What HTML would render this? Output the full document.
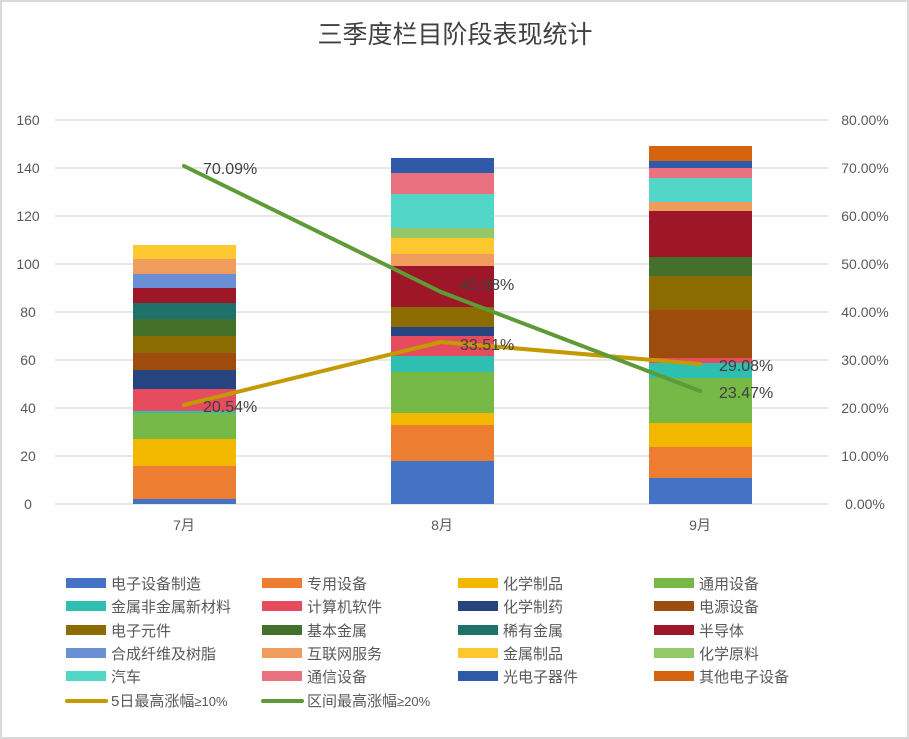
<!DOCTYPE html>
<html><head><meta charset="utf-8"><style>
body{margin:0;background:#fff}
svg{display:block}
text{font-family:"Liberation Sans","Noto Sans CJK SC",sans-serif;fill:#595959}
</style></head><body>
<svg width="909" height="739" viewBox="0 0 909 739">
<rect x="1" y="1" width="907" height="737" fill="#fff" stroke="#d9d9d9" stroke-width="2"/>
<text x="455" y="43" text-anchor="middle" font-size="25" style="fill:#404040">三季度栏目阶段表现统计</text>
<g stroke="#e0e0e0" stroke-width="1.5">
<line x1="55" x2="828" y1="120" y2="120"/><line x1="55" x2="828" y1="168" y2="168"/>
<line x1="55" x2="828" y1="216" y2="216"/><line x1="55" x2="828" y1="264" y2="264"/>
<line x1="55" x2="828" y1="312" y2="312"/><line x1="55" x2="828" y1="360" y2="360"/>
<line x1="55" x2="828" y1="408" y2="408"/><line x1="55" x2="828" y1="456" y2="456"/>
<line x1="55" x2="828" y1="504" y2="504"/>
</g>
<g font-size="14" text-anchor="middle">
<text x="28" y="125">160</text><text x="28" y="173">140</text><text x="28" y="221">120</text>
<text x="28" y="269">100</text><text x="28" y="317">80</text><text x="28" y="365">60</text>
<text x="28" y="413">40</text><text x="28" y="461">20</text><text x="28" y="509">0</text>
</g>
<g font-size="14" text-anchor="middle">
<text x="865" y="125">80.00%</text><text x="865" y="173">70.00%</text><text x="865" y="221">60.00%</text>
<text x="865" y="269">50.00%</text><text x="865" y="317">40.00%</text><text x="865" y="365">30.00%</text>
<text x="865" y="413">20.00%</text><text x="865" y="461">10.00%</text><text x="865" y="509">0.00%</text>
</g>
<g font-size="14" text-anchor="middle">
<text x="184" y="530">7月</text><text x="442" y="530">8月</text><text x="700" y="530">9月</text>
</g>
<!-- bar 1 -->
<g>
<rect x="133" y="499" width="103" height="5" fill="#4472c4"/>
<rect x="133" y="466" width="103" height="33" fill="#ed7d31"/>
<rect x="133" y="439" width="103" height="27" fill="#f2b800"/>
<rect x="133" y="413" width="103" height="26" fill="#76b947"/>
<rect x="133" y="411" width="103" height="2" fill="#2fbfb0"/>
<rect x="133" y="389" width="103" height="22" fill="#e64c5e"/>
<rect x="133" y="370" width="103" height="19" fill="#264480"/>
<rect x="133" y="353" width="103" height="17" fill="#9e4c0e"/>
<rect x="133" y="336" width="103" height="17" fill="#8c6c00"/>
<rect x="133" y="319" width="103" height="17" fill="#43702b"/>
<rect x="133" y="303" width="103" height="16" fill="#1e726a"/>
<rect x="133" y="288" width="103" height="15" fill="#9e1729"/>
<rect x="133" y="274" width="103" height="14" fill="#6b8fd4"/>
<rect x="133" y="259" width="103" height="15" fill="#f09c5c"/>
<rect x="133" y="245" width="103" height="14" fill="#fdc82f"/>
</g>
<!-- bar 2 -->
<g>
<rect x="391" y="461" width="103" height="43" fill="#4472c4"/>
<rect x="391" y="425" width="103" height="36" fill="#ed7d31"/>
<rect x="391" y="413" width="103" height="12" fill="#f2b800"/>
<rect x="391" y="372" width="103" height="41" fill="#76b947"/>
<rect x="391" y="356" width="103" height="16" fill="#2fbfb0"/>
<rect x="391" y="336" width="103" height="20" fill="#e64c5e"/>
<rect x="391" y="327" width="103" height="9" fill="#264480"/>
<rect x="391" y="307" width="103" height="20" fill="#8c6c00"/>
<rect x="391" y="266" width="103" height="41" fill="#9e1729"/>
<rect x="391" y="254" width="103" height="12" fill="#f09c5c"/>
<rect x="391" y="238" width="103" height="16" fill="#fdc82f"/>
<rect x="391" y="228" width="103" height="10" fill="#93c96a"/>
<rect x="391" y="194" width="103" height="34" fill="#52d6c8"/>
<rect x="391" y="173" width="103" height="21" fill="#ea717f"/>
<rect x="391" y="158" width="103" height="15" fill="#2f5aa8"/>
</g>
<!-- bar 3 -->
<g>
<rect x="649" y="478" width="103" height="26" fill="#4472c4"/>
<rect x="649" y="447" width="103" height="31" fill="#ed7d31"/>
<rect x="649" y="423" width="103" height="24" fill="#f2b800"/>
<rect x="649" y="378" width="103" height="45" fill="#76b947"/>
<rect x="649" y="363" width="103" height="15" fill="#2fbfb0"/>
<rect x="649" y="358" width="103" height="5" fill="#e64c5e"/>
<rect x="649" y="310" width="103" height="48" fill="#9e4c0e"/>
<rect x="649" y="276" width="103" height="34" fill="#8c6c00"/>
<rect x="649" y="257" width="103" height="19" fill="#43702b"/>
<rect x="649" y="211" width="103" height="46" fill="#9e1729"/>
<rect x="649" y="202" width="103" height="9" fill="#f09c5c"/>
<rect x="649" y="178" width="103" height="24" fill="#52d6c8"/>
<rect x="649" y="168" width="103" height="10" fill="#ea717f"/>
<rect x="649" y="161" width="103" height="7" fill="#2f5aa8"/>
<rect x="649" y="146" width="103" height="15" fill="#d4640f"/>
</g>
<polyline points="184,405 441,342 700,364" fill="none" stroke="#c49a00" stroke-width="4" stroke-linecap="round" stroke-linejoin="round"/>
<polyline points="184,166 441,292 700,391" fill="none" stroke="#5e9a35" stroke-width="4" stroke-linecap="round" stroke-linejoin="round"/>
<g font-size="16" style="fill:#404040">
<text x="203" y="174" style="fill:#404040">70.09%</text>
<text x="460" y="290" style="fill:#404040">45.88%</text>
<text x="460" y="350" style="fill:#404040">33.51%</text>
<text x="203" y="412" style="fill:#404040">20.54%</text>
<text x="719" y="371" style="fill:#404040">29.08%</text>
<text x="719" y="398" style="fill:#404040">23.47%</text>
</g>
<!-- legend -->
<g font-size="15">
<rect x="66" y="578" width="40" height="10" fill="#4472c4"/><text x="111" y="589">电子设备制造</text>
<rect x="262" y="578" width="40" height="10" fill="#ed7d31"/><text x="307" y="589">专用设备</text>
<rect x="458" y="578" width="40" height="10" fill="#f2b800"/><text x="503" y="589">化学制品</text>
<rect x="654" y="578" width="40" height="10" fill="#76b947"/><text x="699" y="589">通用设备</text>

<rect x="66" y="601" width="40" height="10" fill="#2fbfb0"/><text x="111" y="612">金属非金属新材料</text>
<rect x="262" y="601" width="40" height="10" fill="#e64c5e"/><text x="307" y="612">计算机软件</text>
<rect x="458" y="601" width="40" height="10" fill="#264480"/><text x="503" y="612">化学制药</text>
<rect x="654" y="601" width="40" height="10" fill="#9e4c0e"/><text x="699" y="612">电源设备</text>

<rect x="66" y="625" width="40" height="10" fill="#8c6c00"/><text x="111" y="636">电子元件</text>
<rect x="262" y="625" width="40" height="10" fill="#43702b"/><text x="307" y="636">基本金属</text>
<rect x="458" y="625" width="40" height="10" fill="#1e726a"/><text x="503" y="636">稀有金属</text>
<rect x="654" y="625" width="40" height="10" fill="#9e1729"/><text x="699" y="636">半导体</text>

<rect x="66" y="648" width="40" height="10" fill="#6b8fd4"/><text x="111" y="659">合成纤维及树脂</text>
<rect x="262" y="648" width="40" height="10" fill="#f09c5c"/><text x="307" y="659">互联网服务</text>
<rect x="458" y="648" width="40" height="10" fill="#fdc82f"/><text x="503" y="659">金属制品</text>
<rect x="654" y="648" width="40" height="10" fill="#93c96a"/><text x="699" y="659">化学原料</text>

<rect x="66" y="671" width="40" height="10" fill="#52d6c8"/><text x="111" y="682">汽车</text>
<rect x="262" y="671" width="40" height="10" fill="#ea717f"/><text x="307" y="682">通信设备</text>
<rect x="458" y="671" width="40" height="10" fill="#2f5aa8"/><text x="503" y="682">光电子器件</text>
<rect x="654" y="671" width="40" height="10" fill="#d4640f"/><text x="699" y="682">其他电子设备</text>

<line x1="67" x2="106" y1="701" y2="701" stroke="#c49a00" stroke-width="4" stroke-linecap="round"/><text x="111" y="706">5日最高涨幅<tspan font-size="13">≥10%</tspan></text>
<line x1="263" x2="302" y1="701" y2="701" stroke="#5e9a35" stroke-width="4" stroke-linecap="round"/><text x="307" y="706">区间最高涨幅<tspan font-size="13">≥20%</tspan></text>
</g>
</svg>
</body></html>
